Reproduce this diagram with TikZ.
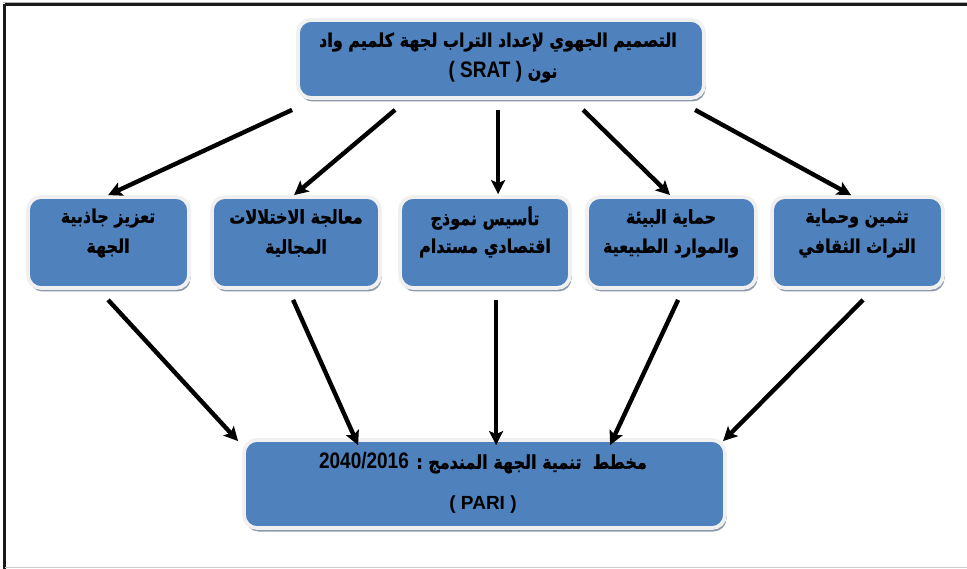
\documentclass[tikz,border=0pt]{standalone}
\usepackage{graphicx}
\usepackage{fontspec}
\setmainfont{Liberation Sans}
\newfontfamily\arabicfont[Script=Arabic, BoldFeatures={FakeBold=1.2}]{DejaVu Sans}
\TeXXeTstate=1
\usetikzlibrary{arrows.meta,shadows}
\definecolor{boxblue}{HTML}{4F81BD}
\definecolor{boxrim}{HTML}{F0F0F0}
\definecolor{shadowgrey}{HTML}{8E9AAB}
\newcommand\lat[1]{\beginL{\rmfamily\bfseries\fontsize{19}{22}\selectfont #1}\endL}
\newcommand\latbig[1]{{\rmfamily\bfseries\fontsize{19}{22}\selectfont #1}}
\newcommand\ar[1]{\scalebox{1}[1.18]{\arabicfont\bfseries\beginR #1\endR}}
\tikzset{
  box/.style={draw=boxrim, line width=3.8pt, fill=boxblue, rounded corners=13pt,
    drop shadow={shadow xshift=1.5pt, shadow yshift=-3.5pt, fill=shadowgrey, opacity=1},
    inner sep=0pt},
  lbl/.style={inner sep=0pt, font=\fontsize{16}{19}\selectfont, text=black},
  arr/.style={line width=4.4pt, draw=black, -{Stealth[length=14pt,width=14pt,inset=3pt]}},
}
\begin{document}
\begin{tikzpicture}[x=1pt,y=-1pt]
\useasboundingbox (0,0) rectangle (967,569);
% frame
\draw[line width=1.5pt, draw=gray!60] (2.5,2.5) -- (967,2.5);
\draw[line width=2.2pt, draw=black!90] (4.5,4.5) -- (967,4.5);
\draw[line width=2.2pt, draw=black!90] (4.5,4.5) -- (4.5,569);
\draw[line width=1.8pt, draw=gray!40] (4.5,567.5) -- (967,567.5);
% boxes
\node[box, minimum width=406pt, minimum height=78pt] (top) at (501,59) {};
\node[box, minimum width=161pt, minimum height=91pt] (m1) at (108.5,242.5) {};
\node[box, minimum width=168pt, minimum height=91pt] (m2) at (296,242.5) {};
\node[box, minimum width=170pt, minimum height=91pt] (m3) at (485,242.5) {};
\node[box, minimum width=169pt, minimum height=91pt] (m4) at (671.5,242.5) {};
\node[box, minimum width=171pt, minimum height=91pt] (m5) at (857.5,242.5) {};
\node[box, minimum width=481pt, minimum height=88pt] (bot) at (484.5,484) {};
% texts
\node[lbl] (topa) at (498,42) {\ar{التصميم الجهوي لإعداد التراب لجهة كلميم واد}};
\node[lbl] (topb) at (503,72) {\ar{نون \lat{( SRAT )}}};
\node[lbl] (m1a) at (108,218) {\ar{تعزيز جاذبية}};
\node[lbl] (m1b) at (108,248) {\ar{الجهة}};
\node[lbl] (m2a) at (296,218) {\ar{معالجة الاختلالات}};
\node[lbl] (m2b) at (296,248) {\ar{المجالية}};
\node[lbl] (m3a) at (485,218) {\ar{تأسيس نموذج}};
\node[lbl] (m3b) at (485,248) {\ar{اقتصادي مستدام}};
\node[lbl] (m4a) at (671,218) {\ar{حماية البيئة}};
\node[lbl] (m4b) at (671,248) {\ar{والموارد الطبيعية}};
\node[lbl] (m5a) at (857,218) {\ar{تثمين وحماية}};
\node[lbl] (m5b) at (857,248) {\ar{التراث الثقافي}};
\node[lbl] (bota) at (483,463) {\ar{مخطط \ تنمية الجهة المندمج : \lat{2040/2016}}};
\node[lbl] (botb) at (483,505) {\latbig{( PARI )}};
% arrows top -> middle
\draw[arr] ([xshift=-4pt,yshift=-10pt]top.south west) -- ([xshift=82pt]m1.north west);
\draw[arr] ([xshift=99pt,yshift=-10pt]top.south west) -- ([xshift=84pt]m2.north west);
\draw[arr] ([xshift=202pt,yshift=-10pt]top.south west) -- ([xshift=100pt,yshift=1pt]m3.north west);
\draw[arr] ([xshift=287pt,yshift=-10pt]top.south west) -- ([xshift=85pt]m4.north west);
\draw[arr] ([xshift=399pt,yshift=-10pt]top.south west) -- ([xshift=81pt]m5.north west);
% arrows middle -> bottom
\draw[arr] ([xshift=82pt,yshift=-10pt]m1.south west) -- ([xshift=-4pt,yshift=-3pt]bot.north west);
\draw[arr] ([xshift=83pt,yshift=-10pt]m2.south west) -- ([xshift=116pt,yshift=-7pt]bot.north west);
\draw[arr] ([xshift=98pt,yshift=-10pt]m3.south west) -- ([xshift=254pt,yshift=-7pt]bot.north west);
\draw[arr] ([xshift=93pt,yshift=-10pt]m4.south west) -- ([xshift=368pt,yshift=-7pt]bot.north west);
\draw[arr] ([xshift=93pt,yshift=-10pt]m5.south west) -- ([xshift=481pt,yshift=-3pt]bot.north west);
\end{tikzpicture}
\end{document}
